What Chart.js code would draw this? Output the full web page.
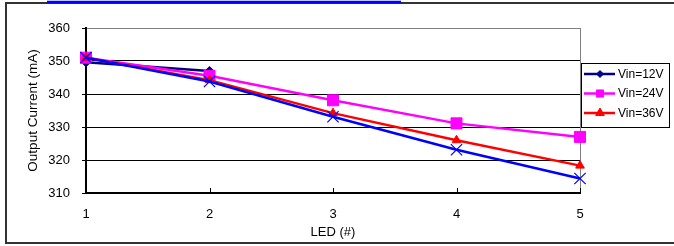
<!DOCTYPE html>
<html>
<head>
<meta charset="utf-8">
<script src="https://cdn.jsdelivr.net/npm/chart.js@4.4.0/dist/chart.umd.min.js"></script>
<style>
  html, body { margin: 0; padding: 0; background: #fff; }
  .wrap { width: 674px; height: 246px; }
</style>
</head>
<body>
<div class="wrap"><canvas id="chart1"></canvas></div>
<script>
// values (12V only shows the first two LEDs)
const ledCount = ['1', '2', '3', '4', '5'];
const vin12 = [349.6, 347, null, null, null];
const vin24 = [351, 345.5, 338.1, 331.1, 327];
const vin36 = [351, 344.2, 334.2, 326, 318.3];
const vin48 = [351, 343.8, 333.1, 323.1, 314.4];
const yTicks = [310, 320, 330, 340, 350, 360];

Chart.defaults.font.family = '"Liberation Sans", Arial, sans-serif';
Chart.defaults.color = '#000';

// outer frame + the blue strip on top
const framePlugin = {
    id: 'frame',
    beforeDraw(chart) {
        const c = chart.ctx;
        c.save();
        c.fillStyle = '#fff';
        c.fillRect(0, 0, chart.width, chart.height);
        c.strokeStyle = '#333';
        c.lineWidth = 2;
        c.beginPath();
        c.moveTo(chart.width, 3);
        c.lineTo(6, 3);
        c.lineTo(6, 243);
        c.lineTo(chart.width, 243);
        c.stroke();
        c.strokeStyle = '#0000ff';
        c.lineWidth = 2.5;
        c.beginPath();
        c.moveTo(47, 2);
        c.lineTo(401, 2);
        c.stroke();
        c.restore();
    }
}

// little ticks pointing up from the x axis
const innerTicks = {
    id: 'innerTicks',
    beforeDatasetsDraw(chart) {
        const xs = chart.scales.x, c = chart.ctx, bottom = chart.chartArea.bottom;
        c.save();
        c.strokeStyle = '#000';
        c.lineWidth = 1;
        ledCount.forEach((l, i) => {
            const px = Math.round(xs.getPixelForValue(i)) + 0.5;
            c.beginPath();
            c.moveTo(px, bottom);
            c.lineTo(px, bottom - 5);
            c.stroke();
        })
        c.restore();
    }
}

// excel style boxed legend (line + marker)
const boxLegend = {
    id: 'boxLegend',
    afterDraw(chart) {
        const c = chart.ctx;
        const x0 = Math.round(chart.chartArea.right) + 1, y0 = 63, w = 88, h = 64;
        c.save();
        c.fillStyle = '#fff';
        c.fillRect(x0, y0, w, h);
        c.strokeStyle = '#000';
        c.lineWidth = 1;
        c.strokeRect(x0 + 0.5, y0 + 0.5, w, h);
        let row = 0;
        chart.data.datasets.forEach(ds => {
            if (!ds.inLegend) return;
            const y = y0 + 11 + row * 19.5;
            c.strokeStyle = ds.borderColor;
            c.lineWidth = 2.5;
            c.beginPath();
            c.moveTo(x0 + 3, y);
            c.lineTo(x0 + 34, y);
            c.stroke();
            c.fillStyle = ds.borderColor;
            c.lineWidth = 1;
            Chart.helpers.drawPoint(c, { pointStyle: ds.pointStyle, radius: ds.legendRadius, rotation: 0, borderWidth: 1 }, x0 + 19, y);
            c.fillStyle = '#000';
            c.font = '12px "Liberation Sans", Arial, sans-serif';
            c.textBaseline = 'middle';
            c.textAlign = 'left';
            c.fillText(ds.label, x0 + 37, y + 0.5);
            row++;
        })
        c.restore();
    }
}

const ctx = document.getElementById('chart1');
const chart1 = new Chart(ctx, {
    type: 'line',
    data: {
        labels: ledCount,
        datasets: [{
            label: 'Vin=12V',
            data: vin12,
            borderColor: '#000080',
            backgroundColor: '#000080',
            pointStyle: 'rectRot',
            pointRadius: 4.5,
            legendRadius: 3.5,
            inLegend: true,
            order: 3
        }, {
            label: 'Vin=24V',
            data: vin24,
            borderColor: '#ff00ff',
            backgroundColor: '#ff00ff',
            pointStyle: 'rect',
            pointRadius: 7.8,
            legendRadius: 5,
            inLegend: true,
            order: 2
        }, {
            label: 'Vin=36V',
            data: vin36,
            borderColor: '#ff0000',
            backgroundColor: '#ff0000',
            pointStyle: 'triangle',
            pointRadius: 5,
            legendRadius: 5,
            inLegend: true,
            order: 1
        }, {
            label: 'Vin=48V',
            data: vin48,
            borderColor: '#0000ff',
            backgroundColor: '#0000ff',
            pointStyle: 'crossRot',
            pointRadius: 8,
            pointBorderWidth: 1.2,
            inLegend: false,
            order: 0
        }]
    },
    options: {
        responsive: true,
        maintainAspectRatio: false,
        animation: false,
        elements: {
            line: { borderWidth: 2.5, tension: 0 },
            point: { borderWidth: 1, hoverRadius: 0 }
        },
        layout: {
            padding: { left: 6, top: 28, right: 94, bottom: 0 }
        },
        plugins: {
            legend: { display: false },
            tooltip: { enabled: false }
        },
        scales: {
            x: {
                type: 'category',
                offset: false,
                afterFit(scale) { scale.height = 53; },
                grid: {
                    color: c => c.index === ledCount.length - 1 ? '#808080' : 'rgba(0,0,0,0)',
                    drawTicks: false
                },
                border: { color: '#000', width: 2 },
                ticks: { color: '#000', font: { size: 13 }, padding: 14, maxRotation: 0 },
                title: { display: true, text: 'LED (#)', color: '#000', font: { size: 13 }, padding: { top: 0, bottom: 6 } }
            },
            y: {
                min: yTicks[0],
                max: yTicks[yTicks.length - 1],
                afterFit(scale) { scale.width = 80; },
                ticks: { stepSize: 10, color: '#000', font: { size: 13 }, padding: 12 },
                grid: {
                    color: c => c.tick && c.tick.value === yTicks[yTicks.length - 1] ? '#808080' : '#000',
                    tickColor: '#000',
                    tickLength: 4
                },
                border: { color: '#000', width: 2 },
                title: { display: true, text: 'Output Current (mA)', color: '#000', font: { size: 13.5 }, padding: { top: 19, bottom: 0 } }
            }
        }
    },
    plugins: [framePlugin, innerTicks, boxLegend]
});
</script>
</body>
</html>
